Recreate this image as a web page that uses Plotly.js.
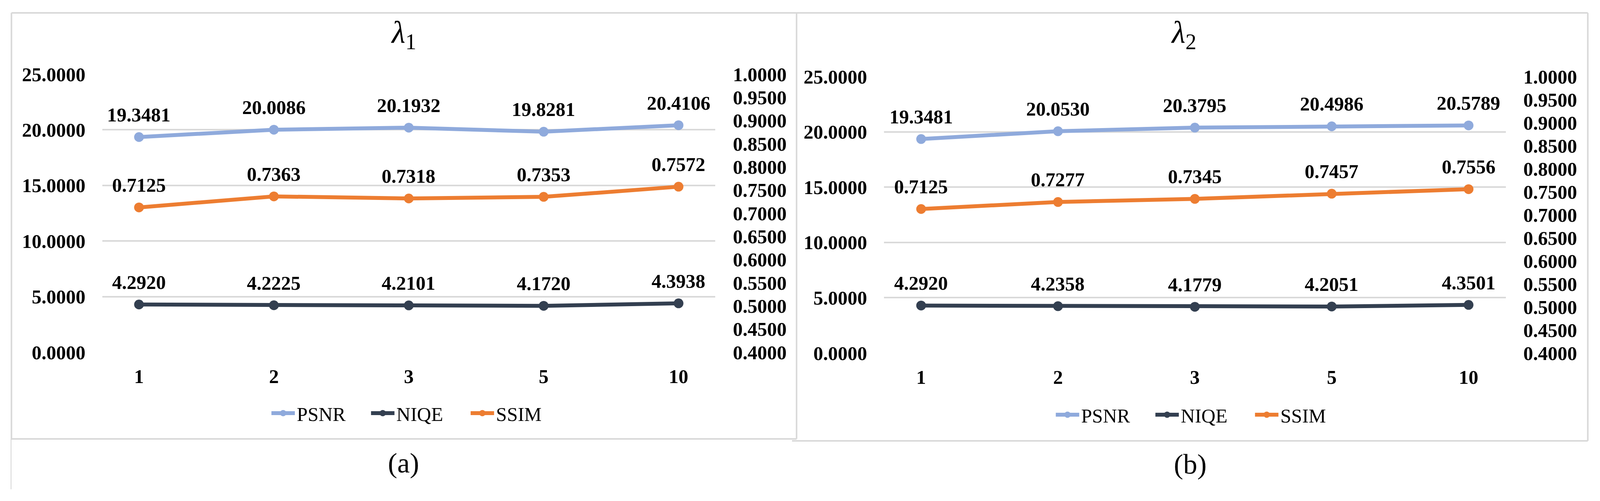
<!DOCTYPE html>
<html>
<head>
<meta charset="utf-8">
<script src="https://cdn.plot.ly/plotly-3.0.1.min.js"></script>
<style>html,body{margin:0;padding:0;background:#fff;overflow:hidden;}#chart{width:100vw;height:100vh;}</style>
</head>
<body>
<div id="chart"></div>
<script>
const categories = ['1', '2', '3', '5', '10'];
const psnrA = [19.3481, 20.0086, 20.1932, 19.8281, 20.4106];
const niqeA = [4.2920, 4.2225, 4.2101, 4.1720, 4.3938];
const ssimA = [0.7125, 0.7363, 0.7318, 0.7353, 0.7572];
const psnrB = [19.3481, 20.0530, 20.3795, 20.4986, 20.5789];
const niqeB = [4.2920, 4.2358, 4.1779, 4.2051, 4.3501];
const ssimB = [0.7125, 0.7277, 0.7345, 0.7457, 0.7556];
const panelTitles = ['<i>λ</i><sub>1</sub>', '<i>λ</i><sub>2</sub>'];
const panelCaptions = ['(a)', '(b)'];

const colors = {PSNR: '#8faadc', NIQE: '#333f50', SSIM: '#ed7d31'};
const FONT = 'Liberation Serif, Times New Roman, serif';
const RW = 4194, RH = 1283;
const W = window.innerWidth || RW, H = window.innerHeight || RH;
const px = v => v / RW;
const py = v => 1 - v / RH;

function mk(name, y, xa, ya, legend) {
  return {
    type: 'scatter', mode: 'lines+markers',
    name: name, x: categories, y: y, xaxis: xa, yaxis: ya, legend: legend,
    line: {color: colors[name], width: 10},
    marker: {color: colors[name], size: 25},
    cliponaxis: false, hoverinfo: 'skip'
  };
}

const data = [
  mk('PSNR', psnrA, 'x', 'y', 'legend'),
  mk('NIQE', niqeA, 'x', 'y', 'legend'),
  mk('SSIM', ssimA, 'x', 'y2', 'legend'),
  mk('PSNR', psnrB, 'x2', 'y3', 'legend2'),
  mk('NIQE', niqeB, 'x2', 'y3', 'legend2'),
  mk('SSIM', ssimB, 'x2', 'y4', 'legend2')
];

const labelFont = {family: FONT, size: 50, color: '#000', weight: 'bold'};
function labels(vals, xr, yr) {
  return vals.map((v, i) => ({xref: xr, yref: yr, x: i, y: v, text: v.toFixed(4),
    showarrow: false, xanchor: 'center', yanchor: 'middle', yshift: 57, font: labelFont}));
}

const tickFont = {family: FONT, size: 50, color: '#000', weight: 'bold'};
function xax(domain, anchor) {
  return {domain: domain, anchor: anchor, type: 'category', showgrid: false, zeroline: false,
    showline: false, ticks: '', tickfont: tickFont, ticklabelstandoff: 28, fixedrange: true};
}
function yleft(domain, anchor) {
  return {domain: domain, anchor: anchor, range: [0, 25], dtick: 5, tickformat: '.4f',
    showgrid: true, gridcolor: '#d9d9d9', gridwidth: 4, zeroline: false, showline: false,
    ticks: '', tickfont: tickFont, ticklabelstandoff: 42, fixedrange: true};
}
function yright(overlay, anchor) {
  return {overlaying: overlay, anchor: anchor, side: 'right', range: [0.4, 1.0], dtick: 0.05,
    tick0: 0.4, tickformat: '.4f', showgrid: false, zeroline: false, showline: false,
    ticks: '', tickfont: tickFont, ticklabelstandoff: 44, fixedrange: true};
}

const border = {color: '#d9d9d9', width: 4};
const shapes = [
  {type: 'line', xref: 'paper', yref: 'paper', x0: px(30), x1: px(4162), y0: py(33), y1: py(33), line: border},
  {type: 'line', xref: 'paper', yref: 'paper', x0: px(30), x1: px(30), y0: py(33), y1: py(1124), line: border},
  {type: 'line', xref: 'paper', yref: 'paper', x0: px(30), x1: px(2088), y0: py(1124), y1: py(1124), line: border},
  {type: 'line', xref: 'paper', yref: 'paper', x0: px(2088), x1: px(2088), y0: py(33), y1: py(1124), line: border},
  {type: 'line', xref: 'paper', yref: 'paper', x0: px(2076), x1: px(4162), y0: py(1129), y1: py(1129), line: border},
  {type: 'line', xref: 'paper', yref: 'paper', x0: px(4162), x1: px(4162), y0: py(33), y1: py(1129), line: border},
  {type: 'line', xref: 'paper', yref: 'paper', x0: px(29), x1: px(29), y0: py(1124), y1: py(1253), line: {color: '#c8c8c8', width: 1.5}}
];

const annotations = [
  {xref: 'paper', yref: 'paper', x: px(1058), y: py(88), text: panelTitles[0], showarrow: false,
   xanchor: 'center', yanchor: 'middle', font: {family: FONT, size: 80, color: '#000'}},
  {xref: 'paper', yref: 'paper', x: px(3103), y: py(88), text: panelTitles[1], showarrow: false,
   xanchor: 'center', yanchor: 'middle', font: {family: FONT, size: 80, color: '#000'}},
  {xref: 'paper', yref: 'paper', x: px(1058), y: py(1186), text: panelCaptions[0], showarrow: false,
   xanchor: 'center', yanchor: 'middle', font: {family: FONT, size: 72, color: '#000'}},
  {xref: 'paper', yref: 'paper', x: px(3120), y: py(1189), text: panelCaptions[1], showarrow: false,
   xanchor: 'center', yanchor: 'middle', font: {family: FONT, size: 72, color: '#000'}}
].concat(
  labels(psnrA, 'x', 'y'), labels(niqeA, 'x', 'y'), labels(ssimA, 'x', 'y2'),
  labels(psnrB, 'x2', 'y3'), labels(niqeB, 'x2', 'y3'), labels(ssimB, 'x2', 'y4')
);

const legFont = {family: FONT, size: 50, color: '#000'};
const legBase = {orientation: 'h', xanchor: 'center', yanchor: 'middle', font: legFont,
  itemwidth: 60, entrywidth: 180, entrywidthmode: 'pixels', bgcolor: 'rgba(0,0,0,0)', traceorder: 'normal'};
const layout = {
  width: W, height: H,
  margin: {l: 0, r: 0, t: 0, b: 0},
  paper_bgcolor: '#fff', plot_bgcolor: 'rgba(0,0,0,0)',
  showlegend: true,
  xaxis: xax([px(268), px(1875)], 'y'),
  yaxis: yleft([py(902), py(190)], 'x'),
  yaxis2: yright('y', 'x'),
  xaxis2: xax([px(2317), px(3947)], 'y3'),
  yaxis3: yleft([py(904), py(196)], 'x2'),
  yaxis4: yright('y3', 'x2'),
  legend: Object.assign({}, legBase, {x: px(1098), y: py(1058)}),
  legend2: Object.assign({}, legBase, {x: px(3154), y: py(1062)}),
  shapes: shapes,
  annotations: annotations
};

Plotly.newPlot('chart', data, layout, {staticPlot: true, displayModeBar: false});
</script>
</body>
</html>
